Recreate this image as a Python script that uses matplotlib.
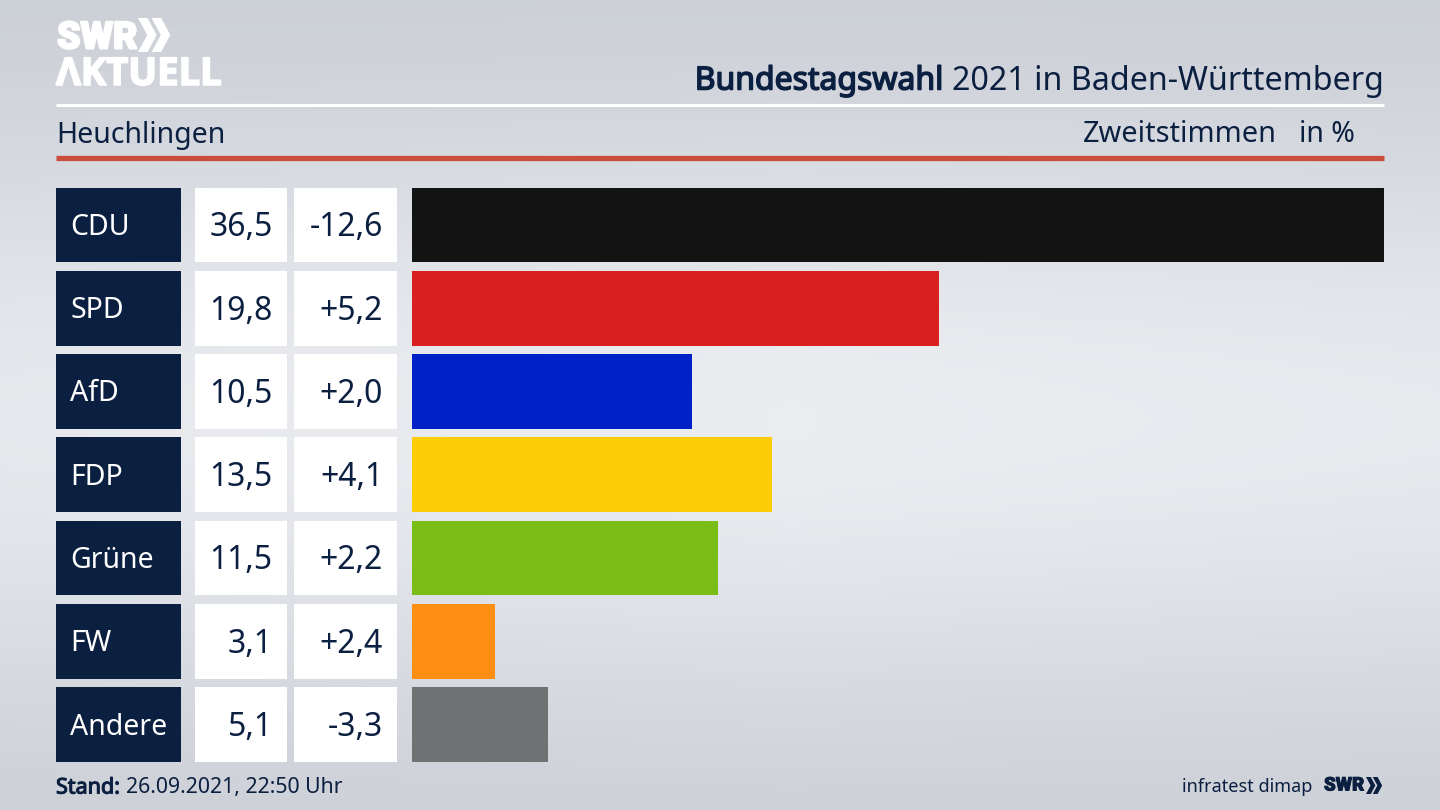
import matplotlib
matplotlib.use("Agg")
import matplotlib.pyplot as plt
import matplotlib.patheffects as pe
import numpy as np

plt.rcParams['font.family'] = ['Noto Sans', 'DejaVu Sans']

parties = ["CDU", "SPD", "AfD", "FDP", "Grüne", "FW", "Andere"]
shares = [36.5, 19.8, 10.5, 13.5, 11.5, 3.1, 5.1]
changes = ["-12,6", "+5,2", "+2,0", "+4,1", "+2,2", "+2,4", "-3,3"]
colors = ["#131313", "#d9201f", "#0021c8", "#ffcc08", "#7abd17", "#ff8e14", "#707173"]

NAVY = "#0b1f40"
W, H = 1440, 810


def px_axes(fig, left, top, right, bottom):
    return fig.add_axes([left / W, 1 - bottom / H, (right - left) / W, (bottom - top) / H])


def heavy(width, color):
    # the installed fonts come out too light for bold, so thicken the outline
    return [pe.withStroke(linewidth=width, foreground=color)]


def chevrons(ax, x, y, h, color):
    # two arrow heads of the SWR logo
    for off in (0, h * 0.40):
        pts = [(x + off, y), (x + off + h * 0.28, y), (x + off + h * 0.55, y + h / 2),
               (x + off + h * 0.28, y + h), (x + off, y + h), (x + off + h * 0.27, y + h / 2)]
        ax.fill(*zip(*pts), color=color, lw=0)


fig = plt.figure(figsize=(14.4, 8.1), dpi=100)

# background with the light band in the middle
bg = fig.add_axes([0, 0, 1, 1])
yy, xx = np.mgrid[0:1:162j, 0:1:288j]
glow = np.exp(-((yy - 0.52) / 0.36) ** 2) * (1 - 0.25 * np.abs(xx - 0.55))
bg.imshow(glow, cmap=matplotlib.colors.LinearSegmentedColormap.from_list("bg", ["#c9cdd4", "#ebedf1"]),
          extent=(0, W, H, 0), aspect="auto", vmin=0, vmax=1, interpolation="bilinear")
bg.set_xlim(0, W)
bg.set_ylim(H, 0)
bg.axis("off")

# header
bg.text(57, 38, "SWR", color="white", fontsize=27, family="Roboto", fontweight="black", va="center", ha="left",
        path_effects=heavy(1.5, "white"))
chevrons(bg, 138, 18, 34, "white")
bg.text(56, 75, "ΛKTUELL", color="white", fontsize=27.5, family="Open Sans", fontweight="bold", va="center", ha="left",
        path_effects=heavy(1.2, "white"))
bg.text(944, 81, "Bundestagswahl", color=NAVY, fontsize=23, va="center", ha="right",
        path_effects=heavy(1.1, NAVY))
bg.text(1384, 81, "2021 in Baden-Württemberg", color=NAVY, fontsize=23.2, va="center", ha="right")
bg.plot([56, 1384], [105, 105], color="white", lw=2.2, solid_capstyle="butt")
bg.text(56, 135, "Heuchlingen", color=NAVY, fontsize=20.5, va="center", ha="left")
bg.text(1277, 135, "Zweitstimmen", color=NAVY, fontsize=20.8, va="center", ha="right")
bg.text(1355, 135, "in %", color=NAVY, fontsize=20.5, va="center", ha="right")
bg.plot([56, 1384], [157.5, 157.5], color="#c94f3c", lw=3.8, solid_capstyle="butt")

# table cells, same rows as the bars
rows = np.arange(len(parties))
tab = px_axes(fig, 0, 187.5, W, 762)
tab.set_xlim(0, W)
tab.set_ylim(6.45, -0.45)
tab.axis("off")
tab.barh(rows, 125, left=56, height=0.9, color=NAVY)
tab.barh(rows, 92, left=195, height=0.9, color="white")
tab.barh(rows, 103, left=294, height=0.9, color="white")
for i in rows:
    tab.text(70, i + 0.03, parties[i], color="white", fontsize=20.5, va="center", ha="left")
    tab.text(272.5, i + 0.035, f"{shares[i]:.1f}".replace(".", ","), color=NAVY, fontsize=23, va="center", ha="right")
    tab.text(383, i + 0.035, changes[i], color=NAVY, fontsize=23, va="center", ha="right")

# bars
ax = px_axes(fig, 412, 187.5, 1384, 762)
ax.barh(rows, shares, height=0.9, color=colors)
ax.set_xlim(0, max(shares))
ax.set_ylim(6.45, -0.45)
ax.axis("off")

# footer, drawn on top axes so it stays over the background
ft = fig.add_axes([0, 0, 1, 1])
ft.set_xlim(0, W)
ft.set_ylim(H, 0)
ft.axis("off")
ft.text(56, 788, "Stand:", color=NAVY, fontsize=15.5, va="center", ha="left", path_effects=heavy(0.8, NAVY))
ft.text(126, 788, "26.09.2021, 22:50 Uhr", color=NAVY, fontsize=15.3, va="center", ha="left")
ft.text(1312, 787, "infratest dimap", color=NAVY, fontsize=13, va="center", ha="right")
ft.text(1324, 785.5, "SWR", color=NAVY, fontsize=13.5, family="Roboto", fontweight="black", va="center", ha="left",
        path_effects=heavy(0.7, NAVY))
chevrons(ft, 1366, 777, 17, NAVY)

fig.savefig("out.png", dpi=100)
